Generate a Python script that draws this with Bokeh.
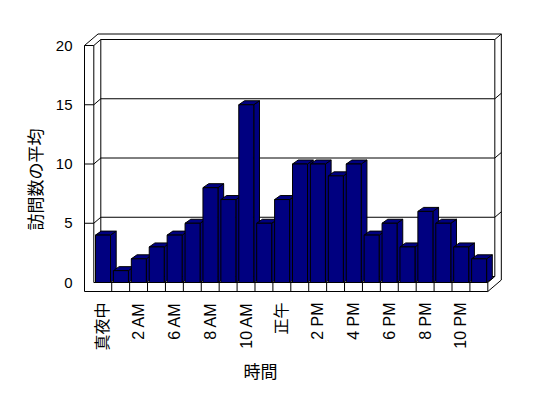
from math import pi
from bokeh.plotting import figure
from bokeh.models import Range1d, FixedTicker, Title
from bokeh.embed import file_html
from bokeh.resources import INLINE

# ---- data ----
categories = ["真夜中", "1 AM", "2 AM", "5 AM", "6 AM", "7 AM", "8 AM", "9 AM",
              "10 AM", "11 AM", "正午", "1 PM", "2 PM", "3 PM", "4 PM", "5 PM",
              "6 PM", "7 PM", "8 PM", "9 PM", "10 PM", "11 PM"]
visits = [4, 1, 2, 3, 4, 5, 8, 7, 15, 5, 7, 10, 10, 9, 10, 4, 5, 3, 6, 5, 3, 2]
y_ticks = [0, 5, 10, 15, 20]
x_title = "時間"
y_title = "訪問数の平均"

# ---- scale helpers (pixels per data unit on the front plane) ----
N = len(categories)
YMAX = y_ticks[-1]
PXX = 17.91
PXY = 11.85
def dx(px):
    return px / PXX
def dy(px):
    return px / PXY

# frame pixel box: left 80, right 506, top 28, bottom 295 ; front origin at (93.3, 282)
x0 = dx(80 - 93.3)
x1 = dx(506 - 93.3)
y0 = dy(282 - 295)
y1 = dy(282 - 28)

p = figure(width=548, height=398, x_range=Range1d(x0, x1), y_range=Range1d(y0, y1),
           output_backend="svg", toolbar_location=None,
           min_border_left=80, min_border_right=42, min_border_top=28, min_border_bottom=103)
p.outline_line_color = None
p.grid.visible = False
p.background_fill_color = "white"
p.border_fill_color = "white"

# ---- 3D walls ----
W = dx(9.3)
YB = -dy(9)
DX, DY = dx(7), dy(6)
BX, BY = dx(13.5), dy(11.5)

lx, ly = [], []
def seg(*pts):
    lx.append([q[0] for q in pts])
    ly.append([q[1] for q in pts])

seg((-W, YB), (-W, YMAX), (0, YMAX), (0, 0))
seg((-W, YMAX), (-W + BX, YMAX + BY), (N + BX, YMAX + BY), (N + BX, YB + BY), (N, YB), (-W, YB))
seg((0, YMAX), (DX, YMAX + DY), (N + DX, YMAX + DY), (N + BX, YMAX + BY))
seg((DX, YMAX + DY), (DX, DY))
seg((N + DX, YMAX + DY), (N + DX, DY))
seg((DX, DY), (N + DX, DY), (N, 0))
seg((0, 0), (N, 0), (N, YB))
for k in range(1, N):
    seg((k, YB), (k, 0))
for v in y_ticks[1:-1]:
    seg((-W, v), (0, v), (DX, v + DY), (N + DX, v + DY), (N + BX, v + BY))

p.multi_line(lx, ly, line_color="black", line_width=1)

# ---- 3D bars ----
A = dx(1.7)
R = dx(16.7)
BDX, BDY = dx(5.7), dy(4)
xs, ys = [], []
for i, v in enumerate(visits):
    l, r = i + A, i + R
    xs += [[r, r + BDX, r + BDX, r], [l, l + BDX, r + BDX, r], [l, r, r, l]]
    ys += [[0, BDY, v + BDY, v], [v, v + BDY, v + BDY, v], [0, 0, v, v]]
p.patches(xs, ys, fill_color="#000080", line_color="black", line_width=1)

# ---- axes ----
font = "Liberation Sans, Noto Sans CJK JP"
p.yaxis.ticker = FixedTicker(ticks=y_ticks)
p.yaxis.major_label_standoff = 8
p.yaxis.major_label_text_font_size = "15px"
p.xaxis.ticker = FixedTicker(ticks=[i + 0.5 for i in range(0, N, 2)])
p.xaxis.major_label_overrides = {i + 0.5: categories[i] for i in range(0, N, 2)}
p.xaxis.major_label_orientation = pi / 2
p.xaxis.major_label_standoff = 7
p.xaxis.major_label_text_font_size = "16px"
for ax in (p.xaxis, p.yaxis):
    ax.axis_line_color = None
    ax.major_tick_line_color = None
    ax.minor_tick_line_color = None
    ax.major_tick_out = 0
    ax.major_tick_in = 0
    ax.minor_tick_out = 0
    ax.major_label_text_font = font
    ax.major_label_text_color = "black"

p.add_layout(Title(text=y_title, align="left", offset=65, standoff=11,
                   text_font="Noto Sans CJK JP", text_font_size="17px",
                   text_font_style="normal", text_color="black"), "left")
p.add_layout(Title(text=x_title, align="left", offset=163, standoff=5,
                   text_font="Noto Sans CJK JP", text_font_size="17px",
                   text_font_style="normal", text_color="black"), "below")

open("out.html", "w").write(file_html(p, INLINE))
